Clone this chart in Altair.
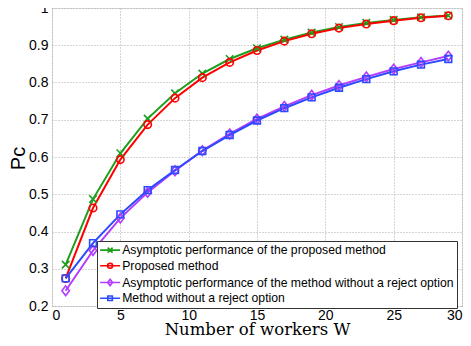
import altair as alt
import pandas as pd

W = [1, 3, 5, 7, 9, 11, 13, 15, 17, 19, 21, 23, 25, 27, 29]
asym_proposed = [0.311, 0.487, 0.610, 0.703, 0.771, 0.824, 0.863, 0.892, 0.915, 0.934, 0.949, 0.960, 0.968, 0.975, 0.980]
proposed = [0.274, 0.463, 0.593, 0.687, 0.758, 0.813, 0.854, 0.886, 0.911, 0.931, 0.946, 0.957, 0.966, 0.974, 0.979]
asym_noreject = [0.241, 0.349, 0.436, 0.505, 0.563, 0.617, 0.662, 0.702, 0.736, 0.766, 0.792, 0.815, 0.836, 0.854, 0.871]
noreject = [0.274, 0.369, 0.446, 0.511, 0.565, 0.616, 0.659, 0.698, 0.731, 0.760, 0.786, 0.809, 0.830, 0.848, 0.863]

names = [
    "Asymptotic performance of the proposed method",
    "Proposed method",
    "Asymptotic performance of the method without a reject option",
    "Method without a reject option",
]
colors = ["#1e9e1e", "#ff0000", "#b43cff", "#2a4bff"]
marker_paths = [
    "M-1,-1L1,1M-1,1L1,-1",
    "M-1,0A1,1 0 1,0 1,0A1,1 0 1,0 -1,0",
    "M0,-1.3L1,0L0,1.3L-1,0Z",
    "M-0.9,-0.9H0.9V0.9H-0.9Z",
]
legend_paths = ["M-4,0H4" + p for p in marker_paths]

rows = []
for name, vals in zip(names, [asym_proposed, proposed, asym_noreject, noreject]):
    for w, v in zip(W, vals):
        rows.append({"W": w, "Pc": v, "series": name})
df = pd.DataFrame(rows)

x = alt.X("W:Q", scale=alt.Scale(domain=[0, 30], nice=False),
          axis=alt.Axis(values=[0, 5, 10, 15, 20, 25, 30], title="Number of workers W",
                        titleFont="DejaVu Serif", titleFontSize=16.5, titleFontWeight="normal",
                        titleY=28.5, titleBaseline="alphabetic",
                        labelFont="Liberation Sans", labelFontSize=14, labelPadding=2,
                        ticks=False, grid=True, gridDash=[1, 2], gridColor="#aaaaaa",
                        domain=False, labelColor="#000", titleColor="#000"))
y = alt.Y("Pc:Q", scale=alt.Scale(domain=[0.2, 1], nice=False, zero=False),
          axis=alt.Axis(values=[0.2, 0.3, 0.4, 0.5, 0.6, 0.7, 0.8, 0.9, 1.0], format=".1~f",
                        title="Pc", titleFont="Liberation Sans", titleFontSize=20,
                        titleFontWeight="normal", titleX=-28, titleY=150, titleAngle=-90,
                        titleAlign="center", titleBaseline="alphabetic",
                        labelFont="Liberation Sans", labelFontSize=14, labelPadding=4,
                        ticks=False, grid=True, gridDash=[1, 2], gridColor="#aaaaaa",
                        domain=False, labelColor="#000", titleColor="#000"))

color = alt.Color("series:N", scale=alt.Scale(domain=names, range=colors))

lines = alt.Chart(df).mark_line(strokeWidth=2).encode(x=x, y=y, color=color, detail="series:N")

point_layers = []
for name, path in zip(names, marker_paths):
    point_layers.append(
        alt.Chart(df).transform_filter(alt.datum.series == name)
        .mark_point(shape=path, filled=False, size=56, strokeWidth=1.6, opacity=1)
        .encode(x=x, y=y, color=color)
    )

legend_layer = alt.Chart(df).mark_point(filled=False, opacity=0, size=25).encode(
    x=x, y=y,
    color=alt.Color("series:N", scale=alt.Scale(domain=names, range=colors),
                    legend=alt.Legend(title=None, orient="none", legendX=45, legendY=233,
                                      labelFont="Liberation Sans", labelFontSize=12.2,
                                      labelLimit=0,
                                      labelColor="#000", symbolSize=25, symbolStrokeWidth=1.6,
                                      symbolOpacity=1, symbolOffset=4, labelOffset=6,
                                      rowPadding=2.7, padding=3, strokeColor="#333",
                                      fillColor="white", cornerRadius=0)),
    shape=alt.Shape("series:N", scale=alt.Scale(domain=names, range=legend_paths)),
)

chart = alt.layer(lines, *point_layers, legend_layer).properties(
    width=410, height=298,
    autosize=alt.AutoSizeParams(type="none"),
    padding={"left": 44, "top": 0, "right": 1, "bottom": 32},
).configure_view(stroke="#444", strokeWidth=1).configure(background="white")

chart.save("out.html", embed_options={"renderer": "svg", "actions": False})
